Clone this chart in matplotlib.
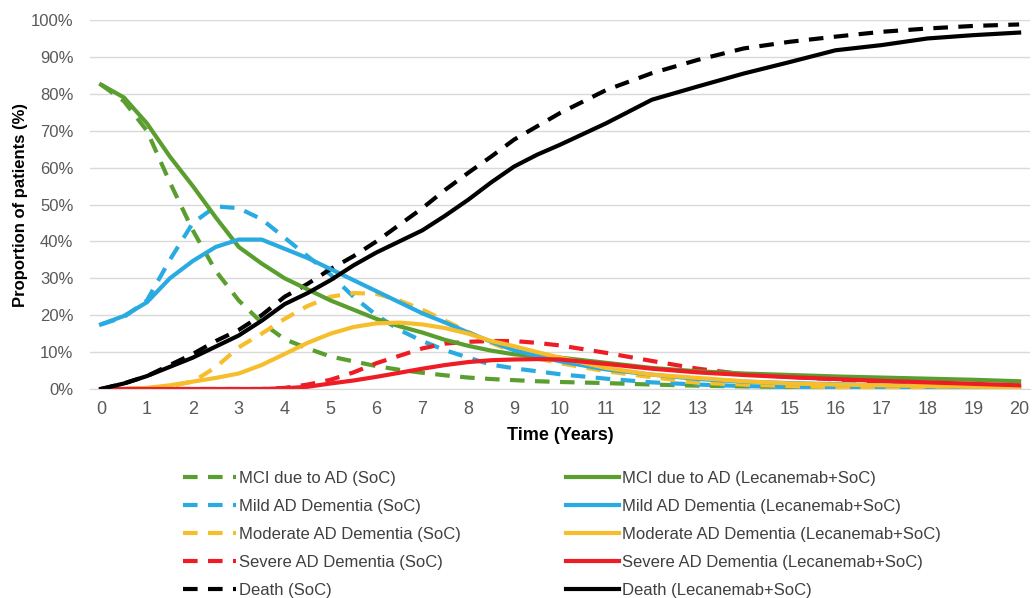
import matplotlib.pyplot as plt
from matplotlib.ticker import FuncFormatter

plt.rcParams['font.family'] = ['Liberation Sans', 'DejaVu Sans']

years = [0, 0.5, 1, 1.5, 2, 2.5, 3, 3.5, 4, 4.5, 5, 5.5, 6, 6.5, 7, 7.5, 8, 8.5, 9, 9.5,
         10, 11, 12, 13, 14, 15, 16, 17, 18, 19, 20]

mci_soc = [82.5, 78, 70, 56, 43, 32, 24, 18, 13.5, 11, 8.8, 7.5, 6.2, 5.2, 4.4, 3.7, 3.1, 2.7, 2.4, 2.1,
           1.9, 1.6, 1.2, 0.9, 0.7, 0.5, 0.4, 0.3, 0.2, 0.2, 0.1]
mci_lec = [82.5, 79, 72, 63, 55, 46.5, 38.5, 34, 30, 27, 24, 21.5, 19, 17, 15.3, 13.3, 11.7, 10.4, 9.4, 8.9,
           8.5, 7.1, 5.7, 4.8, 4.2, 3.8, 3.4, 3.1, 2.8, 2.5, 2.1]
mild_soc = [17.5, 19.5, 24, 35, 45, 49.5, 49, 46, 41, 36, 31, 25, 20, 16, 13, 10.5, 8.5, 6.6, 5.6, 4.8,
            4.0, 2.8, 1.8, 1.2, 0.8, 0.5, 0.4, 0.3, 0.2, 0.1, 0.1]
mild_lec = [17.5, 19.8, 23.5, 30, 34.7, 38.5, 40.5, 40.5, 38, 35.5, 32.5, 29.5, 26.5, 23.5, 20.5, 18, 15.3, 12.8, 10.5, 9,
            7.5, 5.3, 3.9, 2.7, 2.0, 1.6, 1.3, 1.0, 0.8, 0.6, 0.5]
mod_soc = [0, 0, 0.2, 0.8, 2, 5.9, 11.3, 15, 19, 22.5, 25, 26, 25.8, 24, 21.5, 18.5, 15.5, 12.5, 10, 8.3,
           7, 4.8, 3.2, 1.7, 1.2, 0.8, 0.5, 0.3, 0.2, 0.1, 0.1]
mod_lec = [0, 0, 0.3, 1, 2, 3, 4.2, 6.5, 9.5, 12.5, 15, 16.8, 17.8, 18, 17.5, 16.5, 15, 13, 11.6, 10,
           8.5, 5.7, 3.9, 3.0, 2.1, 1.5, 1.2, 1.0, 0.8, 0.6, 0.5]
sev_soc = [0, 0, 0, 0, 0, 0, 0, 0, 0.3, 1.2, 2.5, 4.5, 7, 9, 11, 12.3, 12.8, 13, 13, 12.5,
           11.8, 9.8, 7.6, 5.5, 4.0, 3.3, 2.6, 2.0, 1.6, 1.2, 0.9]
sev_lec = [0, 0, 0, 0, 0, 0, 0, 0, 0.2, 0.6, 1.5, 2.3, 3.3, 4.4, 5.5, 6.5, 7.3, 7.8, 8, 8.1,
           8, 6.8, 5.5, 4.5, 3.8, 3.2, 2.7, 2.2, 1.8, 1.4, 1.0]
death_soc = [0, 1.5, 3.5, 6.5, 9.5, 13, 16, 20, 25, 28.5, 32.5, 36, 40, 44.5, 49, 54, 58.6, 63, 67.6, 71.2,
             74.8, 81, 85.6, 89.2, 92.3, 94.1, 95.5, 96.8, 97.7, 98.4, 98.8]
death_lec = [0, 1.5, 3.5, 6, 8.5, 11.5, 14.5, 18.5, 23, 26, 29.5, 33.5, 37, 40, 43, 47, 51.3, 56, 60.3, 63.5,
             66.2, 72, 78.4, 82, 85.5, 88.6, 91.8, 93.2, 95, 95.9, 96.6]

names = ["MCI due to AD", "Mild AD Dementia", "Moderate AD Dementia", "Severe AD Dementia", "Death"]
soc = [mci_soc, mild_soc, mod_soc, sev_soc, death_soc]
lec = [mci_lec, mild_lec, mod_lec, sev_lec, death_lec]
colors = ['#5B9E30', '#29ABE2', '#F7BE2B', '#EE1C24', '#000000']

fig = plt.figure(figsize=(10.32, 5.98), dpi=100)
ax = fig.add_axes([0.0872, 0.3495, 0.911, 0.617])

for name, vals, c in zip(names, soc, colors):
    ax.plot(years, vals, color=c, lw=3, dashes=(3.5, 2.5), label=name + " (SoC)")
for name, vals, c in zip(names, lec, colors):
    ax.plot(years, vals, color=c, lw=3, label=name + " (Lecanemab+SoC)")

ax.set_xlim(-0.24, 20.24)
ax.set_ylim(0, 100)
ax.set_xticks(range(0, 21))
ax.set_yticks(range(0, 101, 10))
ax.yaxis.set_major_formatter(FuncFormatter(lambda v, p: "%d%%" % v))
ax.tick_params(length=0, labelsize=12, colors='#595959', pad=12)
ax.tick_params(axis='x', pad=9, labelsize=13)
ax.grid(axis='y', color='#d9d9d9', lw=1)
ax.set_axisbelow(True)
for s in ['top', 'right', 'left']:
    ax.spines[s].set_visible(False)
ax.spines['bottom'].set_color('#d9d9d9')

ax.set_xlabel("Time (Years)", fontsize=13, fontweight='bold', labelpad=6)
ax.set_ylabel("Proportion of patients (%)", fontsize=12, fontweight='bold', labelpad=2)

ax.legend(loc='upper left', bbox_to_anchor=(0.083, -0.181), ncol=2, frameon=False,
          fontsize=12, handlelength=3.2, handletextpad=0.15, columnspacing=6.3,
          labelspacing=0.78, labelcolor='#404040')

fig.savefig("out.png", dpi=100)
